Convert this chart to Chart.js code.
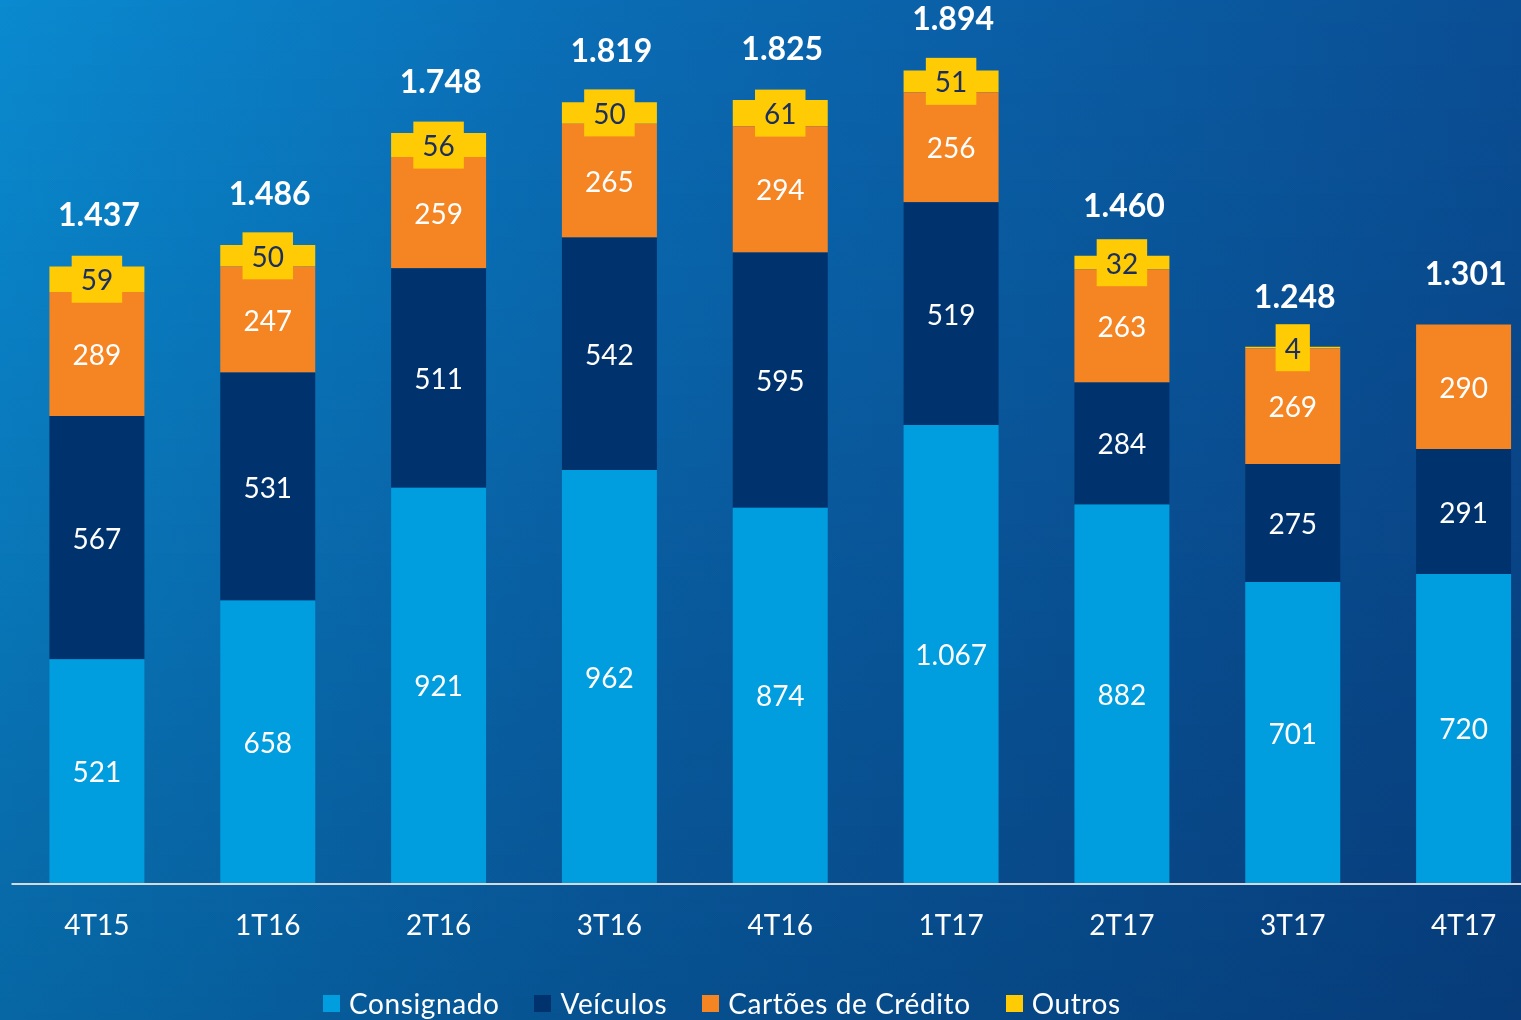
<!DOCTYPE html>
<html>
<head>
<meta charset="utf-8">
<script src="https://cdn.jsdelivr.net/npm/chart.js@4"></script>
<style>
    html, body { margin: 0; padding: 0; width: 1521px; height: 1020px; overflow: hidden; }
    body {
        background:
            linear-gradient(to bottom, rgba(0, 10, 50, 0) 0%, rgba(0, 10, 50, 0.28) 100%),
            linear-gradient(to right, #0a8ad0 0%, #0a6cb4 40%, #0a4e94 100%);
        font-family: Lato, sans-serif;
    }
    #wrap { position: absolute; left: 0; top: 0; width: 1549px; height: 1020px; }
    #legend { position: absolute; left: 323px; top: 984px; display: flex; color: #fff; font-size: 28px; line-height: 38px; white-space: nowrap; letter-spacing: 0.6px; }
    #legend span.item { display: flex; align-items: center; margin-right: 35px; }
    #legend span.sw { display: inline-block; width: 17px; height: 17px; margin-right: 9px; }
</style>
</head>
<body>
<div id="wrap"><canvas id="chart"></canvas></div>
<div id="legend"></div>
<script>
const quarters = ["4T15", "1T16", "2T16", "3T16", "4T16", "1T17", "2T17", "3T17", "4T17"];
const consignado = [521, 658, 921, 962, 874, 1067, 882, 701, 720];
const veiculos = [567, 531, 511, 542, 595, 519, 284, 275, 291];
const cartoes = [289, 247, 259, 265, 294, 256, 263, 269, 290];
const outros = [59, 50, 56, 50, 61, 51, 32, 4, null];
const totals = [1437, 1486, 1748, 1819, 1825, 1894, 1460, 1248, 1301];

const light_blue = "#009ddf"
const navy = "#00336e"
const orange = "#f58423"
const yellow = "#ffcb05"
const white = "#ffffff"

// 1437 -> "1.437"
function fmt(v) {
    return String(v).replace(/\B(?=(\d{3})+(?!\d))/g, ".");
}

// segment labels, yellow label boxes, totals and base line
const labelsPlugin = {
    id: 'barLabels',
    afterDatasetsDraw(chart) {
        const ctx = chart.ctx;
        ctx.save();
        ctx.textAlign = 'center';
        ctx.textBaseline = 'middle';
        chart.data.datasets.forEach((ds, di) => {
            const meta = chart.getDatasetMeta(di);
            meta.data.forEach((el, i) => {
                const v = ds.data[i];
                if (v == null) return;
                const cy = (el.y + el.base) / 2;
                ctx.font = '28px Lato, sans-serif';
                const txt = fmt(v);
                if (di == 3) {
                    const w = ctx.measureText(txt).width + 18;
                    ctx.fillStyle = yellow;
                    ctx.fillRect(el.x - w / 2, cy - 23.5, w, 47);
                    ctx.fillStyle = "#1b2f5e";
                } else {
                    ctx.fillStyle = white;
                }
                ctx.fillText(txt, el.x, cy + 2);
            });
        });
        // totals
        const top = chart.getDatasetMeta(0);
        ctx.font = 'bold 32px Lato, sans-serif';
        ctx.fillStyle = white;
        top.data.forEach((el, i) => {
            const y = chart.scales.y.getPixelForValue(totals[i]);
            ctx.fillText(fmt(totals[i]), el.x + 2, y - 50);
        });
        // axis line
        const a = chart.chartArea;
        ctx.strokeStyle = "#d6d9de";
        ctx.lineWidth = 2;
        ctx.beginPath();
        ctx.moveTo(a.left, a.bottom + 1);
        ctx.lineTo(a.right, a.bottom + 1);
        ctx.stroke();
        ctx.restore();
    }
};

const series = [
    { label: "Consignado", data: consignado, color: light_blue },
    { label: "Veículos", data: veiculos, color: navy },
    { label: "Cartões de Crédito", data: cartoes, color: orange },
    { label: "Outros", data: outros, color: yellow },
];

new Chart(document.getElementById('chart'), {
    type: 'bar',
    data: {
        labels: quarters,
        datasets: series.map((s) => ({
            label: s.label,
            data: s.data,
            backgroundColor: s.color,
            borderWidth: 0,
            categoryPercentage: 1,
            barPercentage: 0.556,
        }))
    },
    options: {
        responsive: true,
        maintainAspectRatio: false,
        animation: false,
        layout: { padding: { left: 11.5, right: 0, top: 0, bottom: 0 } },
        plugins: {
            legend: { display: false },
            tooltip: { enabled: false },
        },
        scales: {
            x: {
                stacked: true,
                grid: { display: false, drawTicks: false },
                border: { display: false },
                ticks: {
                    color: white,
                    padding: 26,
                    font: { size: 28, family: 'Lato, sans-serif' },
                    maxRotation: 0,
                },
                afterFit(scale) { scale.height = 137 },
            },
            y: {
                stacked: true,
                display: false,
                min: 0,
                max: 2057,
            }
        }
    },
    plugins: [labelsPlugin]
});

// html legend
const legend = document.getElementById('legend');
series.forEach((s) => {
    const item = document.createElement('span');
    item.className = 'item';
    item.innerHTML = '<span class="sw" style="background:' + s.color + '"></span>' + s.label;
    legend.appendChild(item);
});
</script>
</body>
</html>
